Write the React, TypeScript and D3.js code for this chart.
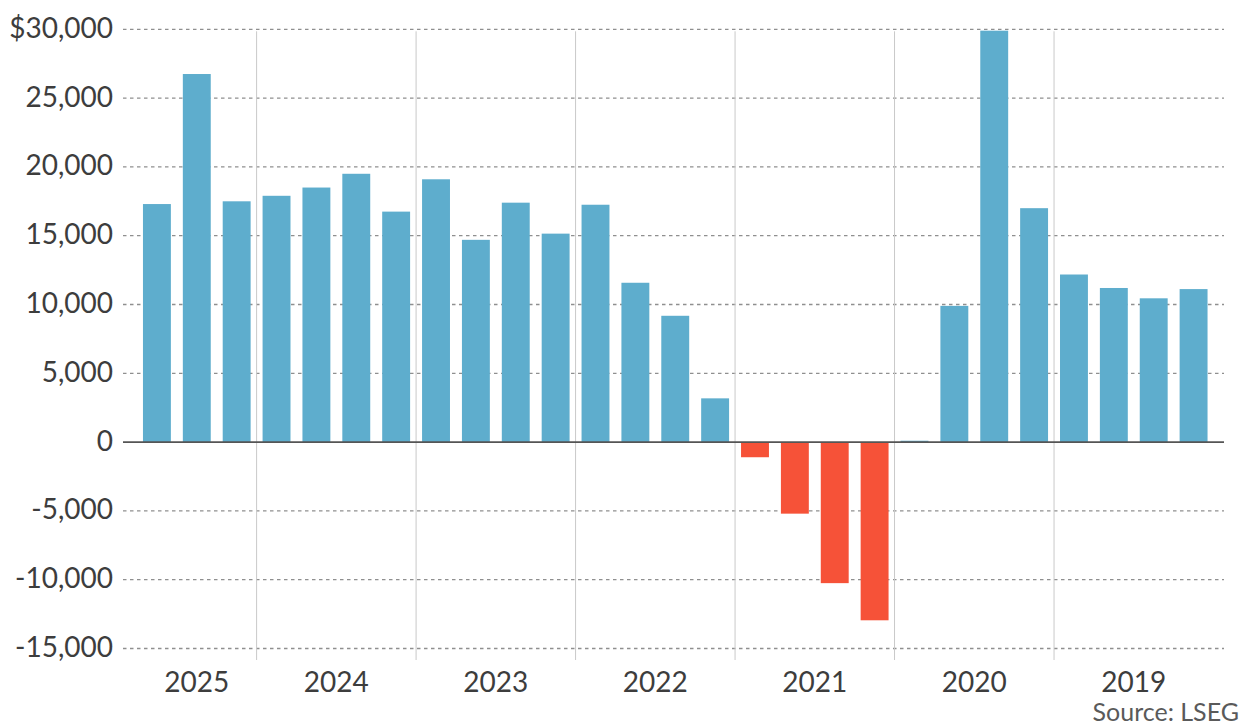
import React from "react";
import * as d3 from "d3";

const quarters: string[] = [
  "Q3 2025", "Q2 2025", "Q1 2025",
  "Q4 2024", "Q3 2024", "Q2 2024", "Q1 2024",
  "Q4 2023", "Q3 2023", "Q2 2023", "Q1 2023",
  "Q4 2022", "Q3 2022", "Q2 2022", "Q1 2022",
  "Q4 2021", "Q3 2021", "Q2 2021", "Q1 2021",
  "Q4 2020", "Q3 2020", "Q2 2020", "Q1 2020",
  "Q4 2019", "Q3 2019", "Q2 2019", "Q1 2019",
];
const values: number[] = [
  17300, 26750, 17500,
  17900, 18500, 19500, 16750,
  19100, 14700, 17400, 15150,
  17250, 11580, 9180, 3180,
  -1100, -5200, -10250, -12950,
  100, 9900, 29900, 17000,
  12180, 11200, 10450, 11120,
];
const years: string[] = ["2025", "2024", "2023", "2022", "2021", "2020", "2019"];
const yTicks: number[] = [30000, 25000, 20000, 15000, 10000, 5000, 0, -5000, -10000, -15000];
const sourceText = "Source: LSEG";

const W = 1242;
const H = 727;
const FONT = "Lato, 'Open Sans', sans-serif";

export default function App() {
  const x = d3.scaleBand<string>().domain(quarters).range([131, 1219.5]).padding(0.3);
  const y = d3.scaleLinear().domain([-15000, 30000]).range([648.5, 29.3]);
  const fmt = (v: number) => d3.format(",")(v).replace("\u2212", "-");
  const gridX0 = 123;
  const gridX1 = 1224;
  const step = x.step();

  const yearOf = (q: string) => q.split(" ")[1];
  const yearCenters = years.map((yr) => {
    const qs = quarters.filter((q) => yearOf(q) === yr);
    const cs = qs.map((q) => (x(q) as number) + x.bandwidth() / 2);
    return { yr, cx: d3.mean(cs) as number };
  });
  const separators: number[] = [];
  for (let i = 1; i < quarters.length; i++) {
    if (yearOf(quarters[i]) !== yearOf(quarters[i - 1])) {
      separators.push((x(quarters[i]) as number) + x.bandwidth() / 2 - step / 2);
    }
  }

  return (
    <svg
      width={W}
      height={H}
      style={{ position: "absolute", left: 0, top: 0, background: "#fff" }}
      fontFamily={FONT}
    >
      {/* gridlines */}
      {yTicks.filter((t) => t !== 0).map((t) => (
        <line
          key={"g" + t}
          x1={gridX0}
          x2={gridX1}
          y1={y(t)}
          y2={y(t)}
          stroke="#8f8f8f"
          strokeWidth={1.3}
          strokeDasharray="3.5,3.5"
        />
      ))}
      {/* year separators */}
      {separators.map((sx, i) => (
        <line key={"s" + i} x1={sx} x2={sx} y1={y(30000) + 2} y2={660} stroke="#c9c9c9" strokeWidth={1} />
      ))}
      {/* bars */}
      {quarters.map((q, i) => {
        const v = values[i];
        const y0 = y(0);
        const yv = y(v);
        return (
          <rect
            key={q}
            x={x(q)}
            width={x.bandwidth()}
            y={Math.min(y0, yv)}
            height={Math.max(Math.abs(yv - y0), 0.8)}
            fill={v >= 0 ? "#5eadcd" : "#f65238"}
          />
        );
      })}
      {/* zero line */}
      <line x1={gridX0} x2={gridX1} y1={y(0)} y2={y(0)} stroke="#555" strokeWidth={1.6} />
      {/* y labels */}
      {yTicks.map((t) => (
        <text
          key={"t" + t}
          x={113}
          y={y(t)}
          dy="0.3em"
          textAnchor="end"
          fontSize={28}
          fill="#3d3d3d"
        >
          {(t === 30000 ? "$" : "") + fmt(t)}
        </text>
      ))}
      {/* year labels */}
      {yearCenters.map((d) => (
        <text key={d.yr} x={d.cx} y={692} textAnchor="middle" fontSize={28} fill="#3d3d3d">
          {d.yr}
        </text>
      ))}
      <text x={1239} y={721} textAnchor="end" fontSize={25} fill="#5a5a5a">
        {sourceText}
      </text>
    </svg>
  );
}
